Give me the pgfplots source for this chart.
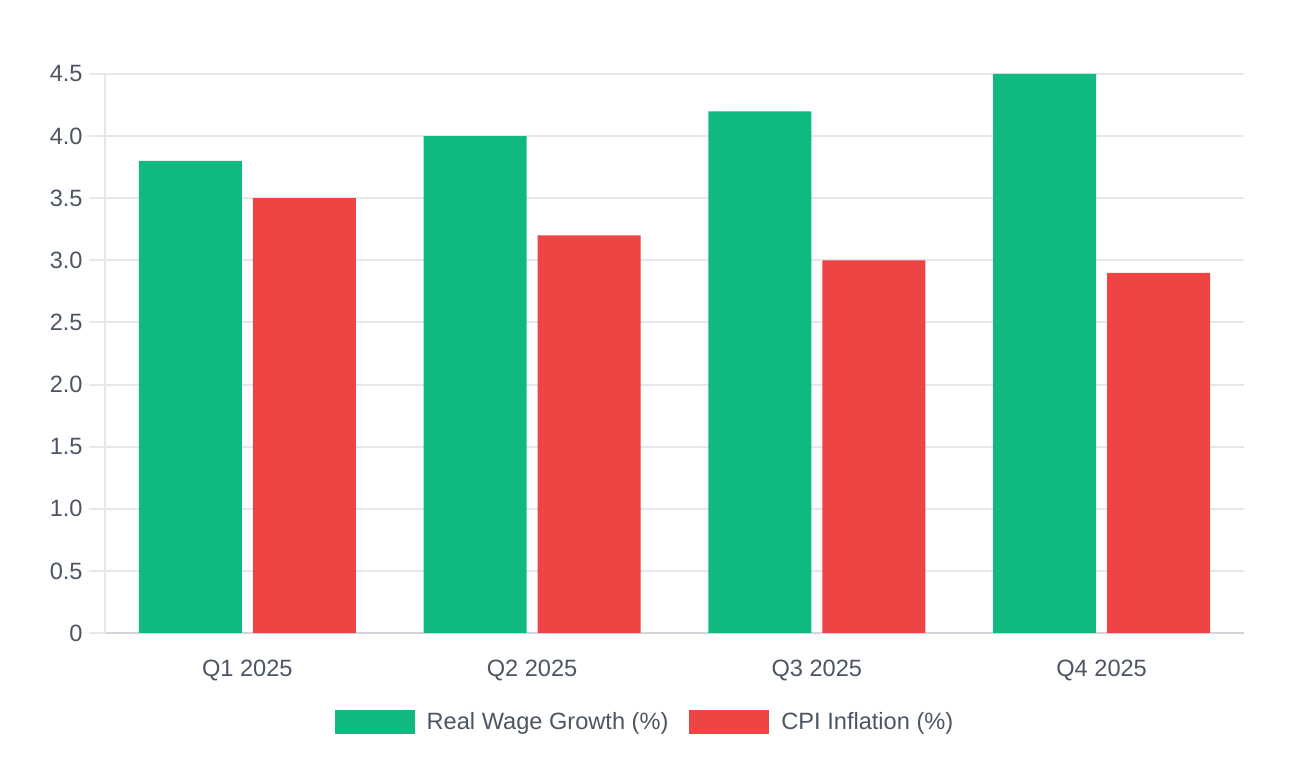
\documentclass[border=0pt]{standalone}
\usepackage{fontspec}
\setmainfont{Liberation Sans}
\usepackage{pgfplots}
\pgfplotsset{compat=1.18}
\definecolor{wage}{HTML}{10B981}
\definecolor{cpi}{HTML}{EF4444}
\definecolor{gridgray}{HTML}{E5E7EB}
\definecolor{axisgray}{HTML}{D1D5DB}
\definecolor{textgray}{HTML}{4B5563}
\begin{document}
\begin{tikzpicture}
\useasboundingbox (0,0) rectangle (648pt,383pt);
\begin{axis}[
    at={(52.5pt,66.5pt)}, anchor=south west,
    scale only axis,
    width=569.5pt, height=279.5pt,
    xmin=-0.5, xmax=3.5,
    ymin=0, ymax=4.5,
    enlargelimits=false,
    axis x line*=bottom,
    axis y line*=left,
    x axis line style={draw=axisgray, line width=1pt, -},
    y axis line style={draw=gridgray, line width=1pt, -},
    xtick={0,1,2,3},
    xticklabels={Q1 2025, Q2 2025, Q3 2025, Q4 2025},
    ytick={0,0.5,1,1.5,2,2.5,3,3.5,4,4.5},
    yticklabels={0,0.5,1.0,1.5,2.0,2.5,3.0,3.5,4.0,4.5},
    xtick style={draw=none},
    ytick style={draw=gridgray, line width=1pt},
    tick align=outside,
    major tick length=8pt,
    ymajorgrids,
    major grid style={draw=gridgray, line width=1pt},
    every tick label/.append style={font=\fontsize{11.8}{14}\selectfont, text=textgray},
    yticklabel style={inner sep=0pt, xshift=-3pt},
    xticklabel style={inner sep=0pt, anchor=north, yshift=-5.5pt},
    legend columns=2,
    legend style={
        at={(0.4732,-0.1592)}, anchor=center,
        draw=none, fill=none,
        font=\fontsize{11.8}{14}\selectfont, text=textgray,
        nodes={inner sep=0pt},
        /tikz/every odd column/.append style={column sep=6pt},
        /tikz/every even column/.append style={column sep=10.5pt},
    },
    legend image code/.code={\fill[#1] (0pt,-6pt) rectangle (40pt,6pt);},
]
\addplot[ybar, bar width=0.362, bar shift=-0.2, fill=wage, draw=none]
    coordinates {(0,3.8) (1,4.0) (2,4.2) (3,4.5)};
\addlegendentry{Real Wage Growth (\%)}
\addplot[ybar, bar width=0.362, bar shift=0.2, fill=cpi, draw=none]
    coordinates {(0,3.5) (1,3.2) (2,3.0) (3,2.9)};
\addlegendentry{CPI Inflation (\%)}
\end{axis}
\end{tikzpicture}
\end{document}
